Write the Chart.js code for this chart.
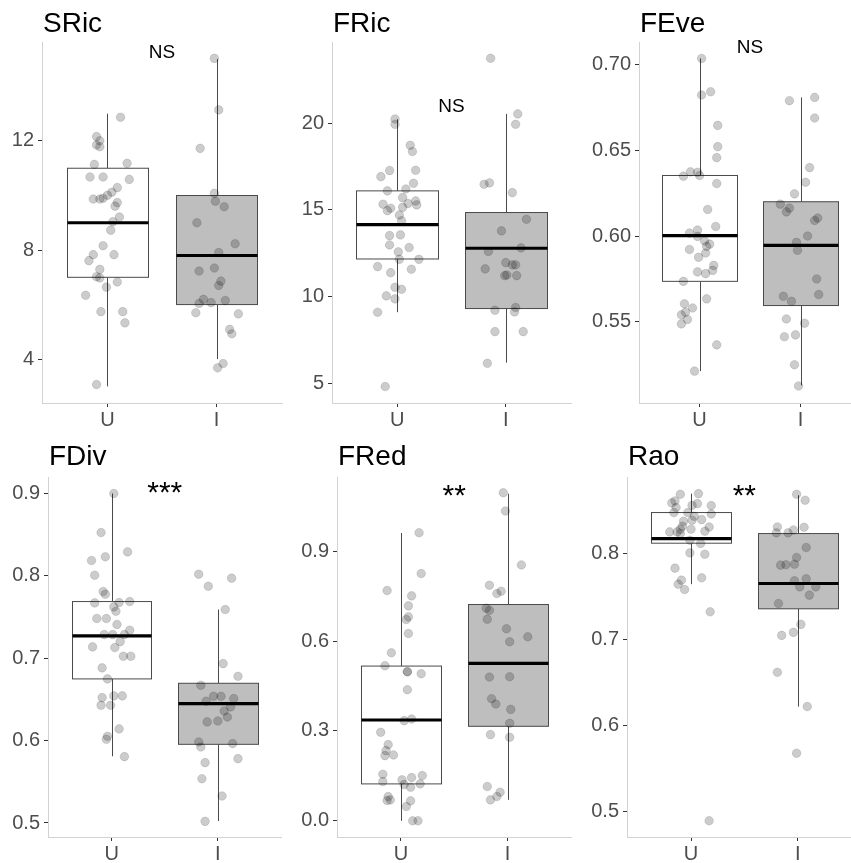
<!DOCTYPE html>
<html>
<head>
<meta charset="utf-8">
<script src="https://cdn.jsdelivr.net/npm/chart.js@4.4.1/dist/chart.umd.min.js"></script>
<style>
  html, body { margin: 0; padding: 0; background: #fff; overflow: hidden; }
  #wrap { position: relative; width: 851px; height: 863px; }
  #wrap canvas { position: absolute; }
</style>
</head>
<body>
<div id="wrap"></div>
<script>
// categories and panel labels
const groups = ['U', 'I'];
const titles = ['SRic', 'FRic', 'FEve', 'FDiv', 'FRed', 'Rao'];
const sigLabels = ['NS', 'NS', 'NS', '***', '**', '**'];
const sigY = [15.03, 20.67, 0.7064, 0.890, 1.054, 0.856];

// tick labels per panel
const sricTicks = [4, 8, 12];
const fricTicks = [5, 10, 15, 20];
const feveTicks = [0.55, 0.60, 0.65, 0.70];
const fdivTicks = [0.5, 0.6, 0.7, 0.8, 0.9];
const fredTicks = [0.0, 0.3, 0.6, 0.9];
const raoTicks = [0.5, 0.6, 0.7, 0.8];

// box stats: [lower whisker, Q1, median, Q3, upper whisker]
const sricBoxU = [3, 7, 9, 11, 13];
const sricBoxI = [4, 6, 7.8, 10, 15];
const fricBoxU = [9.1, 12.17, 14.15, 16.1, 20.23];
const fricBoxI = [6.19, 9.31, 12.79, 14.85, 20.54];
const feveBoxU = [0.5213, 0.5736, 0.6002, 0.6353, 0.7035];
const feveBoxI = [0.513, 0.5595, 0.5946, 0.620, 0.6808];
const fdivBoxU = [0.581, 0.6749, 0.7271, 0.7688, 0.90];
const fdivBoxI = [0.5024, 0.5955, 0.6449, 0.6696, 0.7591];
const fredBoxU = [0, 0.1233, 0.3367, 0.5167, 0.9611];
const fredBoxI = [0.07, 0.3156, 0.5256, 0.7222, 1.0922];
const raoBoxU = [0.7644, 0.812, 0.8174, 0.8476, 0.8696];
const raoBoxI = [0.6222, 0.7358, 0.7652, 0.8232, 0.8677];

// jittered points: values and horizontal jitter (category units)
const sricU = [12.87,12.16,12.01,11.85,11.79,11.14,11.18,10.68,10.68,10.59,10.29,10.12,10.01,9.90,9.87,9.87,9.74,9.61,9.21,9.04,8.73,8.16,7.83,7.83,7.61,7.29,7.02,6.98,6.83,6.64,6.34,5.74,5.74,5.33,3.07];
const sricUJit = [0.12,-0.10,-0.07,-0.10,-0.07,-0.12,0.18,-0.16,-0.04,0.20,0.09,0.04,0.0,-0.04,-0.07,-0.13,0.09,0.07,0.11,0.05,0.03,-0.04,-0.13,0.06,-0.17,-0.07,-0.10,-0.07,0.09,-0.01,-0.20,-0.06,0.14,0.16,-0.10];
const sricI = [15.03,13.14,11.73,10.08,9.79,9.59,9.00,8.23,7.91,7.23,7.34,6.86,6.70,6.19,6.04,6.07,6.15,5.70,5.66,5.09,4.93,3.84,3.68];
const sricIJit = [-0.02,0.02,-0.15,-0.02,-0.01,0.07,-0.18,0.17,0.02,-0.16,-0.02,0.04,0.02,-0.12,-0.16,-0.05,0.08,-0.19,0.20,0.12,0.14,0.06,0.01];

const fricU = [20.25,19.94,18.73,18.37,16.92,17.27,17.29,16.54,16.21,16.10,15.71,15.33,15.37,15.52,15.29,15.15,15.10,14.96,14.71,14.38,13.52,13.56,12.98,12.83,12.58,12.15,12.15,11.73,11.58,11.38,10.54,10.42,10.04,9.87,9.10,4.81];
const fricUJit = [-0.02,-0.02,0.12,0.14,-0.15,-0.07,0.17,0.15,0.08,-0.09,0.05,-0.13,0.10,0.17,0.18,0.05,-0.06,-0.09,0.02,0.04,-0.07,0.03,-0.07,0.11,0.01,0.02,0.20,-0.18,0.13,-0.06,-0.02,0.04,-0.10,-0.02,-0.18,-0.11];
const fricI = [23.75,20.54,19.94,16.48,16.56,16.0,14.46,13.79,12.60,12.81,11.96,11.83,11.83,11.60,11.21,11.25,11.21,9.21,9.37,9.12,7.98,7.98,6.15];
const fricIJit = [-0.14,0.11,0.09,-0.20,-0.15,0.06,0.19,-0.04,-0.16,0.14,0.0,0.06,0.09,-0.19,-0.01,0.01,0.10,-0.10,0.09,0.08,-0.10,0.16,-0.17];

const feveU = [0.7035,0.6822,0.6841,0.6645,0.6521,0.6457,0.6349,0.6374,0.6372,0.6353,0.6306,0.6155,0.6056,0.6017,0.6035,0.5998,0.5971,0.5953,0.5940,0.5922,0.5901,0.5876,0.5829,0.5800,0.5791,0.5781,0.5736,0.5634,0.5605,0.5581,0.5556,0.5541,0.5514,0.5488,0.5366,0.5213];
const feveUJit = [0.02,0.02,0.11,0.18,0.18,0.17,-0.16,-0.09,-0.02,0.0,0.17,0.08,0.16,-0.10,-0.02,-0.02,0.05,0.10,0.07,-0.10,0.06,-0.01,0.14,0.13,-0.02,0.06,-0.16,0.07,-0.15,-0.07,-0.14,-0.18,-0.12,-0.18,0.17,-0.05];
const feveI = [0.6789,0.6808,0.6688,0.6399,0.6314,0.6246,0.6186,0.6163,0.6141,0.6105,0.6091,0.6000,0.5963,0.5917,0.5649,0.5620,0.5750,0.5659,0.5517,0.5492,0.5413,0.5424,0.5250,0.5126];
const feveIJit = [-0.11,0.14,0.14,0.09,0.05,-0.06,-0.20,-0.11,-0.14,0.17,0.14,0.07,-0.04,-0.03,-0.17,-0.09,0.16,0.18,-0.14,0.04,-0.16,-0.05,-0.06,-0.02];

const fdivU = [0.900,0.8526,0.8291,0.8231,0.8186,0.8008,0.7810,0.7777,0.7672,0.7676,0.7688,0.7623,0.7571,0.7482,0.7482,0.7409,0.7340,0.7287,0.7287,0.7287,0.7202,0.7138,0.7130,0.7024,0.7024,0.6883,0.6749,0.6522,0.6543,0.6543,0.6429,0.6429,0.6142,0.6053,0.6016,0.5806];
const fdivUJit = [0.02,-0.10,0.15,-0.06,-0.19,-0.16,-0.08,-0.06,-0.16,0.07,0.17,0.02,0.04,-0.14,-0.05,0.05,0.17,-0.07,0.01,0.12,0.08,-0.18,0.03,0.11,0.18,-0.09,-0.04,-0.09,0.02,0.10,-0.10,-0.01,0.07,-0.04,-0.05,0.12];
const fdivI = [0.802,0.7972,0.7874,0.7591,0.6935,0.6781,0.6672,0.6538,0.6538,0.651,0.6478,0.6409,0.636,0.6287,0.6227,0.6239,0.5984,0.5964,0.5923,0.5781,0.5733,0.5538,0.5328,0.502];
const fdivIJit = [-0.18,0.13,-0.09,0.07,0.05,0.19,-0.16,-0.04,0.03,0.15,-0.11,0.12,0.06,0.09,-0.10,0.0,-0.18,0.14,-0.16,0.19,-0.12,-0.15,0.04,-0.12];

const fredU = [0.962,0.8256,0.7689,0.7511,0.7178,0.6811,0.6722,0.6256,0.5611,0.5178,0.4978,0.4978,0.4911,0.4378,0.3344,0.34,0.2956,0.2544,0.2344,0.2178,0.22,0.1556,0.1311,0.1511,0.1444,0.1367,0.1211,0.1122,0.1233,0.0811,0.0678,0.07,0.0667,0.0478,0.0,0.0];
const fredUJit = [0.17,0.19,-0.13,0.10,0.07,0.07,0.05,0.07,-0.09,-0.15,0.06,0.06,0.19,0.06,0.03,0.10,-0.19,-0.12,-0.14,-0.15,-0.07,-0.17,-0.17,0.20,0.10,0.01,0.03,0.09,0.18,-0.12,-0.13,-0.10,0.09,0.05,0.11,0.16];
const fredI = [1.0956,1.0344,0.8544,0.7867,0.7589,0.7667,0.71,0.7033,0.6733,0.6411,0.5978,0.6144,0.48,0.4811,0.4078,0.39,0.3722,0.3256,0.2878,0.2789,0.1144,0.0956,0.0811,0.07];
const fredIJit = [-0.04,-0.02,0.13,-0.17,-0.10,-0.06,-0.20,-0.17,-0.19,-0.01,0.02,0.19,-0.17,0.02,-0.15,-0.11,0.03,0.02,-0.16,0.02,-0.19,-0.07,-0.10,-0.16];

const raoU = [0.8688,0.8696,0.8588,0.8611,0.8534,0.856,0.858,0.8557,0.8476,0.8476,0.846,0.8433,0.8394,0.8375,0.8387,0.8317,0.8309,0.8282,0.8282,0.8251,0.8251,0.8259,0.8232,0.8155,0.8116,0.8008,0.7992,0.783,0.7718,0.7691,0.7644,0.7582,0.7323,0.4896];
const raoUJit = [-0.10,0.07,-0.18,-0.15,-0.14,0.01,0.06,0.19,-0.16,-0.03,0.19,0.03,0.10,-0.07,0.01,-0.08,0.17,0.0,-0.10,-0.20,-0.13,0.13,-0.10,-0.01,0.09,-0.01,0.13,-0.15,0.10,-0.09,-0.12,-0.06,0.18,0.17];
const raoI = [0.8688,0.8619,0.8309,0.8305,0.8274,0.824,0.824,0.807,0.7954,0.7865,0.7869,0.7876,0.7683,0.7706,0.7613,0.7613,0.7517,0.742,0.7177,0.7084,0.7049,0.662,0.6222,0.568];
const raoIJit = [-0.01,0.07,-0.19,0.06,-0.04,-0.20,-0.09,0.08,-0.01,-0.16,-0.11,-0.03,-0.03,0.08,0.02,0.17,0.11,-0.18,0.03,-0.04,-0.15,-0.19,0.09,-0.01];

// panel data table built from the arrays above
const panels = [
  { boxes: [sricBoxU, sricBoxI], pts: [sricU, sricI], jit: [sricUJit, sricIJit], ticks: sricTicks, yMin: 2.39, yMax: 15.63, dec: 0 },
  { boxes: [fricBoxU, fricBoxI], pts: [fricU, fricI], jit: [fricUJit, fricIJit], ticks: fricTicks, yMin: 3.86, yMax: 24.69, dec: 0 },
  { boxes: [feveBoxU, feveBoxI], pts: [feveU, feveI], jit: [feveUJit, feveIJit], ticks: feveTicks, yMin: 0.5027, yMax: 0.7131, dec: 2 },
  { boxes: [fdivBoxU, fdivBoxI], pts: [fdivU, fdivI], jit: [fdivUJit, fdivIJit], ticks: fdivTicks, yMin: 0.483, yMax: 0.92, dec: 1 },
  { boxes: [fredBoxU, fredBoxI], pts: [fredU, fredI], jit: [fredUJit, fredIJit], ticks: fredTicks, yMin: -0.054, yMax: 1.148, dec: 1 },
  { boxes: [raoBoxU, raoBoxI], pts: [raoU, raoI], jit: [raoUJit, raoIJit], ticks: raoTicks, yMin: 0.4707, yMax: 0.8889, dec: 1 }
];

// where each panel sits on the page
const layoutSpec = [
  { left: 0,   top: 0,   w: 284, h: 431, yw: 42, pt: 42, pr: 2,   xh: 28, titleY: 32, xMax: 2.6 },
  { left: 284, top: 0,   w: 290, h: 431, yw: 48, pt: 42, pr: 3,   xh: 28, titleY: 32, xMax: 2.6 },
  { left: 574, top: 0,   w: 277, h: 431, yw: 65, pt: 42, pr: 0,   xh: 28, titleY: 32, xMax: 2.5 },
  { left: 0,   top: 431, w: 284, h: 432, yw: 48, pt: 46, pr: 2.5, xh: 26, titleY: 34, xMax: 2.6 },
  { left: 284, top: 431, w: 290, h: 432, yw: 53, pt: 46, pr: 2.5, xh: 26, titleY: 34, xMax: 2.6 },
  { left: 574, top: 431, w: 277, h: 432, yw: 53, pt: 46, pr: 0,   xh: 26, titleY: 34, xMax: 2.5 }
];

const FONT = '"Liberation Sans", Arial, sans-serif';

// draws the boxplots underneath the points
const boxPlugin = {
  id: 'boxes',
  beforeDatasetsDraw(chart, args, o) {
    const { ctx, scales: { x, y } } = chart;
    ctx.save();
    o.stats.forEach((st, i) => {
      const c = i + 1;
      const xc = Math.round(x.getPixelForValue(c)) + 0.5;
      const xl = Math.round(x.getPixelForValue(c - 0.375)) + 0.5;
      const xr = Math.round(x.getPixelForValue(c + 0.375)) + 0.5;
      const yLo = y.getPixelForValue(st[0]), yQ1 = y.getPixelForValue(st[1]);
      const yMed = y.getPixelForValue(st[2]), yQ3 = y.getPixelForValue(st[3]);
      const yHi = y.getPixelForValue(st[4]);
      ctx.strokeStyle = '#4a4a4a';
      ctx.lineWidth = 1;
      ctx.beginPath();
      ctx.moveTo(xc, yLo); ctx.lineTo(xc, yQ1);
      ctx.moveTo(xc, yQ3); ctx.lineTo(xc, yHi);
      ctx.stroke();
      ctx.fillStyle = o.fills[i];
      ctx.fillRect(xl, yQ3, xr - xl, yQ1 - yQ3);
      ctx.strokeRect(xl, yQ3, xr - xl, yQ1 - yQ3);
      ctx.strokeStyle = '#000';
      ctx.lineWidth = 3.2;
      ctx.beginPath();
      ctx.moveTo(xl, yMed); ctx.lineTo(xr, yMed);
      ctx.stroke();
    });
    ctx.restore();
  }
};

// panel title and significance label
const textPlugin = {
  id: 'panelText',
  afterDraw(chart, args, o) {
    const { ctx, chartArea, scales } = chart;
    ctx.save();
    ctx.fillStyle = '#000';
    ctx.textBaseline = 'alphabetic';
    ctx.textAlign = 'left';
    ctx.font = '28px ' + FONT;
    ctx.fillText(o.title, chartArea.left + 1, o.titleY);
    ctx.textAlign = 'center';
    ctx.font = (o.sig === 'NS' ? 19 : 30) + 'px ' + FONT;
    ctx.fillText(o.sig, scales.x.getPixelForValue(1.5), scales.y.getPixelForValue(o.sigY));
    ctx.restore();
  }
};

const wrap = document.getElementById('wrap');

panels.forEach((p, k) => {
  const L = layoutSpec[k];
  const cv = document.createElement('canvas');
  cv.width = L.w; cv.height = L.h;
  cv.style.left = L.left + 'px'; cv.style.top = L.top + 'px';
  cv.style.width = L.w + 'px'; cv.style.height = L.h + 'px';
  wrap.appendChild(cv);

  const datasets = p.pts.map((vals, g) => ({
    data: vals.map((v, i) => ({ x: g + 1 + p.jit[g][i], y: v })),
    pointRadius: 4.3,
    pointBackgroundColor: 'rgba(0,0,0,0.2)',
    pointBorderColor: 'rgba(0,0,0,0.12)',
    pointBorderWidth: 1
  }));

  new Chart(cv.getContext('2d'), {
    type: 'scatter',
    data: { datasets },
    options: {
      responsive: false,
      animation: false,
      events: [],
      layout: { padding: { top: L.pt, right: L.pr, left: 0, bottom: 0 }, autoPadding: false },
      plugins: {
        legend: { display: false },
        tooltip: { enabled: false },
        boxes: { stats: p.boxes, fills: ['#ffffff', '#bebebe'] },
        panelText: { title: titles[k], sig: sigLabels[k], sigY: sigY[k], titleY: L.titleY }
      },
      scales: {
        x: {
          type: 'linear',
          min: 0.4, max: L.xMax,
          afterBuildTicks: s => { s.ticks = groups.map((g, i) => ({ value: i + 1 })); },
          afterFit: s => { s.height = L.xh; },
          ticks: {
            callback: v => groups[Math.round(v) - 1],
            font: { family: FONT, size: 20 },
            color: '#4d4d4d',
            padding: 1,
            maxRotation: 0
          },
          grid: { drawOnChartArea: false, tickColor: '#333', tickLength: 4 },
          border: { display: true, color: '#d2d2d2', width: 1 }
        },
        y: {
          min: p.yMin, max: p.yMax,
          afterBuildTicks: s => { s.ticks = p.ticks.map(v => ({ value: v })); },
          afterFit: s => { s.width = L.yw; },
          ticks: {
            callback: v => Number(v).toFixed(p.dec),
            font: { family: FONT, size: 20 },
            color: '#4d4d4d',
            padding: 4
          },
          grid: { drawOnChartArea: false, tickColor: '#333', tickLength: 4 },
          border: { display: true, color: '#d2d2d2', width: 1 }
        }
      }
    },
    plugins: [boxPlugin, textPlugin]
  });
});
</script>
</body>
</html>
